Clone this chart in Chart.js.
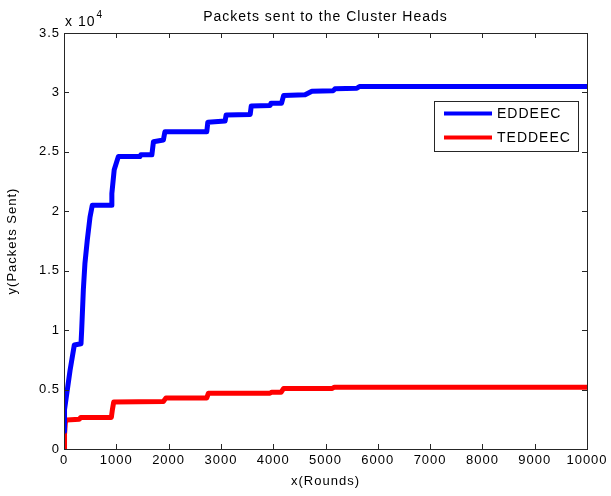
<!DOCTYPE html>
<html>
<head>
<meta charset="utf-8">
<script src="https://cdn.jsdelivr.net/npm/chart.js@4/dist/chart.umd.min.js"></script>
<style>
  html, body { margin: 0; padding: 0; background: #ffffff; }
  canvas { display: block; }
</style>
</head>
<body>
<canvas id="chart" width="611" height="496"></canvas>
<script>
// Cumulative packets delivered to cluster heads, per protocol
const seriesNames = ['EDDEEC', 'TEDDEEC'];
const seriesColors = ['#0000ff', '#ff0000'];

const eddeecRounds = [0, 10, 115, 197, 325, 338, 370, 400, 446, 497, 541, 900, 915, 960, 1040,
  1450, 1470, 1680, 1710, 1900, 1930, 2730, 2750, 3080, 3100, 3560, 3580, 3940, 3960,
  4160, 4200, 4610, 4740, 5150, 5180, 5600, 5650, 10000];
const eddeecPackets = [1500, 3300, 6600, 8750, 8850, 10000, 13400, 15600, 17600, 19500, 20500, 20500, 21500, 23500, 24600,
  24600, 24750, 24750, 25850, 26000, 26700, 26700, 27500, 27600, 28100, 28150, 28850, 28900, 29100,
  29100, 29750, 29800, 30100, 30150, 30300, 30350, 30500, 30500];

const teddeecRounds = [0, 10, 25, 50, 290, 320, 905, 925, 950, 1900, 1950, 2730, 2760,
  3940, 3970, 4150, 4200, 5130, 5170, 10000];
const teddeecPackets = [0, 1200, 2200, 2450, 2500, 2650, 2650, 3300, 3950, 4000, 4300, 4300, 4680,
  4700, 4770, 4770, 5100, 5100, 5200, 5200];

const xTickLabels = ['0', '1000', '2000', '3000', '4000', '5000', '6000', '7000', '8000', '9000', '10000'];
const yTickLabels = ['0', '0.5', '1', '1.5', '2', '2.5', '3', '3.5'];
const yExponentBase = 'x 10';
const yExponentPower = '4';

const titleText = 'Packets sent to the Cluster Heads';
const xTitleText = 'x(Rounds)';
const yTitleText = 'y(Packets Sent)';

const FONT = "'Liberation Sans', Arial, Helvetica, sans-serif";
const INK = '#262626';

function toPoints(xs, ys) {
  return xs.map((x, i) => ({ x: x, y: ys[i] }));
}

// Wider glyph spacing for all canvas text
const spacingPlugin = {
  id: 'spacing',
  beforeDraw(chart) { chart.ctx.letterSpacing = '1px'; }
};

// Axes box with inward tick marks on all four sides
const framePlugin = {
  id: 'frame',
  afterDraw(chart) {
    const { ctx, chartArea: a, scales } = chart;
    const len = 5;
    ctx.save();
    ctx.strokeStyle = INK;
    ctx.lineWidth = 1;
    ctx.beginPath();
    scales.x.ticks.forEach(t => {
      const px = Math.round(scales.x.getPixelForValue(t.value)) + 0.5;
      ctx.moveTo(px, a.bottom); ctx.lineTo(px, a.bottom - len);
      ctx.moveTo(px, a.top); ctx.lineTo(px, a.top + len);
    });
    scales.y.ticks.forEach(t => {
      const py = Math.round(scales.y.getPixelForValue(t.value)) + 0.5;
      ctx.moveTo(a.left, py); ctx.lineTo(a.left + len, py);
      ctx.moveTo(a.right, py); ctx.lineTo(a.right - len, py);
    });
    ctx.stroke();
    ctx.strokeRect(Math.round(a.left) + 0.5, Math.round(a.top) + 0.5,
      Math.round(a.right - a.left), Math.round(a.bottom - a.top));

    // exponent label above the y axis
    ctx.fillStyle = '#000';
    ctx.textBaseline = 'alphabetic';
    ctx.textAlign = 'left';
    ctx.font = '14px ' + FONT;
    ctx.fillText(yExponentBase, a.left + 1, a.top - 7);
    const w = ctx.measureText(yExponentBase).width;
    ctx.font = '10px ' + FONT;
    ctx.fillText(yExponentPower, a.left + 1 + w + 1, a.top - 15);
    ctx.restore();
  }
};

// Legend box inside the plot, upper right
const boxLegendPlugin = {
  id: 'boxLegend',
  afterDraw(chart) {
    const { ctx, chartArea: a } = chart;
    const bw = 144, bh = 50;
    const bx = Math.round(a.right - 9 - bw), by = Math.round(a.top + 68);
    ctx.save();
    ctx.fillStyle = '#ffffff';
    ctx.fillRect(bx, by, bw, bh);
    ctx.strokeStyle = INK;
    ctx.lineWidth = 1;
    ctx.strokeRect(bx + 0.5, by + 0.5, bw, bh);
    ctx.font = '14px ' + FONT;
    ctx.letterSpacing = '1px';
    ctx.textBaseline = 'middle';
    ctx.textAlign = 'left';
    chart.data.datasets.forEach((ds, i) => {
      const y = by + 12.5 + i * 24;
      ctx.strokeStyle = ds.borderColor;
      ctx.lineWidth = 4;
      ctx.beginPath();
      ctx.moveTo(bx + 10, y); ctx.lineTo(bx + 58, y);
      ctx.stroke();
      ctx.fillStyle = '#000';
      ctx.fillText(ds.label, bx + 63, y + 0.5);
    });
    ctx.restore();
  }
};

Chart.defaults.font.family = FONT;
Chart.defaults.color = '#000';

new Chart(document.getElementById('chart'), {
  type: 'line',
  data: {
    datasets: [
      {
        label: seriesNames[0],
        data: toPoints(eddeecRounds, eddeecPackets),
        borderColor: seriesColors[0],
        backgroundColor: seriesColors[0],
        borderWidth: 5,
        pointRadius: 0,
        tension: 0,
        fill: false,
        borderJoinStyle: 'round',
        borderCapStyle: 'round'
      },
      {
        label: seriesNames[1],
        data: toPoints(teddeecRounds, teddeecPackets),
        borderColor: seriesColors[1],
        backgroundColor: seriesColors[1],
        borderWidth: 5,
        pointRadius: 0,
        tension: 0,
        fill: false,
        borderJoinStyle: 'round',
        borderCapStyle: 'round'
      }
    ]
  },
  options: {
    responsive: false,
    animation: false,
    events: [],
    layout: { padding: { left: 0, right: 24, top: 0, bottom: 0 } },
    plugins: {
      legend: { display: false },
      tooltip: { enabled: false },
      title: {
        display: true,
        text: titleText,
        fullSize: false,
        color: '#000',
        font: { size: 14, weight: 'normal' },
        padding: { top: 9, bottom: 7.2 }
      }
    },
    scales: {
      x: {
        type: 'linear',
        min: 0,
        max: 10000,
        grid: { display: false, drawTicks: false },
        border: { display: false },
        ticks: {
          stepSize: 1000,
          maxRotation: 0,
          autoSkip: false,
          padding: 4,
          font: { size: 13 },
          color: '#000',
          callback: (v, i) => xTickLabels[i]
        },
        title: {
          display: true,
          text: xTitleText,
          font: { size: 13 },
          color: '#000',
          padding: { top: 0, bottom: 7 }
        },
        afterFit(scale) { scale.height = 47; }
      },
      y: {
        type: 'linear',
        min: 0,
        max: 35000,
        grid: { display: false, drawTicks: false },
        border: { display: false },
        ticks: {
          stepSize: 5000,
          autoSkip: false,
          padding: 4,
          font: { size: 13 },
          color: '#000',
          callback: (v, i) => yTickLabels[i]
        },
        title: {
          display: true,
          text: yTitleText,
          font: { size: 13 },
          color: '#000',
          padding: { top: 5, bottom: 0 }
        },
        afterFit(scale) { scale.width = 64; }
      }
    }
  },
  plugins: [spacingPlugin, framePlugin, boxLegendPlugin]
});
</script>
</body>
</html>
